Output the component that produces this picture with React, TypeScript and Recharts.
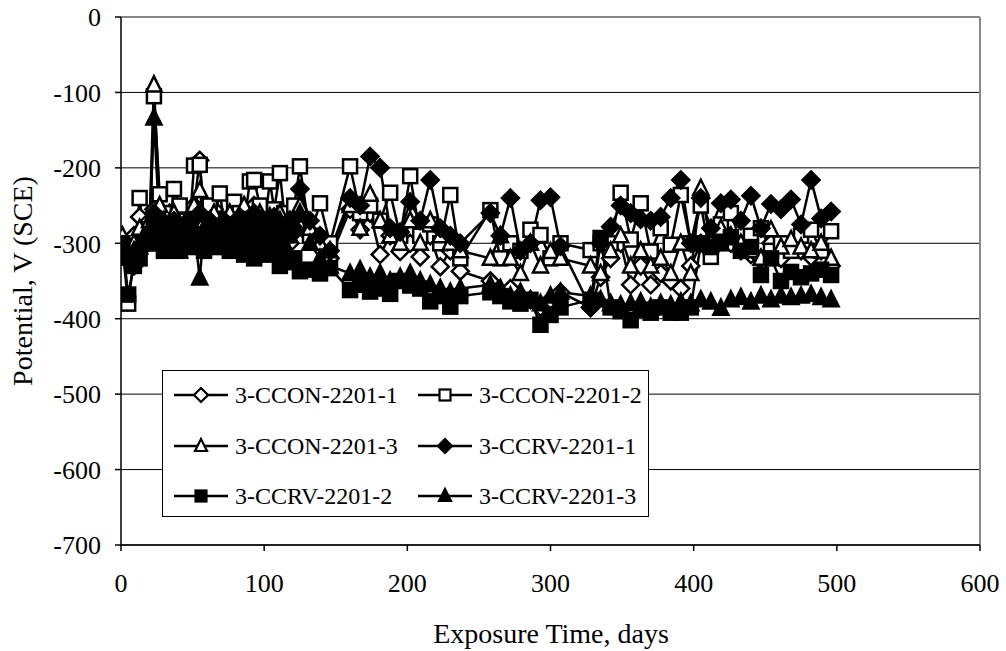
import React from 'react';
import { LineChart, Line, XAxis, YAxis, CartesianGrid, Legend, ReferenceLine } from 'recharts';

const days = [1,5,9,13,16,20,23,27,30,34,37,41,44,48,51,55,58,62,65,69,72,76,79,83,86,90,93,97,100,104,107,111,114,118,121,125,132,139,146,160,167,174,181,188,195,202,209,216,223,230,237,258,265,272,279,286,293,300,307,328,335,342,349,356,363,370,377,384,391,398,405,412,419,426,433,440,447,454,461,468,475,482,489,496];

const ccon1 = [-300,-310,-290,-265,-280,-270,-255,-270,-285,-260,
  -275,-290,-265,-280,-250,-190,-265,-280,-255,-270,
  -290,-265,-280,-255,-285,-270,-250,-290,-275,-300,
  -280,-295,-270,-300,-285,-260,
  -290,-300,-320,
  -255,-282,-260,-315,-290,-311,-300,-318,-290,-331,
  -310,-337,
  -350,-365,-360,-370,-375,-385,-375,-365,
  -385,-345,-320,-300,-355,-330,-355,-340,-350,-360,
  -330,-300,-310,-280,-300,-310,-315,-320,-300,-320,
  -305,-310,-318,-310,-330];

const ccon2 = [-305,-380,-320,-240,-290,-300,-105,-235,-260,-280,
  -228,-250,-270,-275,-197,-196,-260,-250,-270,-234,
  -270,-280,-245,-260,-275,-218,-216,-250,-280,-218,
  -255,-207,-260,-280,-250,-198,
  -290,-247,-300,
  -198,-260,-250,-270,-233,-290,-211,-290,-275,-300,
  -236,-320,
  -256,-320,-300,-310,-282,-289,-320,-300,
  -309,-300,-300,-233,-295,-247,-311,-280,-302,-236,
  -300,-250,-318,-275,-260,-300,-290,-280,-310,-300,
  -310,-290,-282,-310,-284];

const ccon3 = [-290,-310,-300,-280,-290,-270,-90,-250,-270,-285,
  -260,-280,-275,-290,-250,-230,-270,-285,-260,-275,
  -280,-260,-290,-270,-250,-285,-270,-260,-290,-265,
  -280,-260,-290,-270,-275,-250,
  -280,-300,-310,
  -250,-280,-235,-270,-290,-300,-270,-300,-270,-290,
  -300,-310,
  -320,-290,-320,-340,-300,-330,-311,-320,
  -330,-340,-310,-290,-330,-310,-330,-320,-340,-300,
  -340,-227,-300,-280,-290,-300,-310,-320,-282,-305,
  -295,-305,-310,-300,-320];

const ccrv1 = [-310,-320,-330,-310,-300,-290,-260,-270,-280,-290,
  -270,-295,-280,-270,-290,-260,-285,-270,-290,-280,
  -270,-295,-280,-265,-290,-275,-260,-285,-270,-280,
  -265,-275,-290,-270,-280,-228,
  -270,-290,-310,
  -240,-250,-185,-200,-280,-285,-245,-270,-216,-280,
  -290,-300,
  -260,-290,-240,-310,-300,-243,-239,-304,
  -385,-300,-278,-250,-260,-268,-270,-265,-240,-216,
  -300,-240,-280,-247,-242,-270,-237,-280,-248,-255,
  -242,-275,-216,-267,-258];

const ccrv2 = [-300,-368,-330,-320,-300,-295,-270,-300,-310,-290,
  -300,-310,-295,-305,-300,-290,-310,-300,-295,-305,
  -300,-310,-305,-300,-315,-310,-320,-315,-310,-305,
  -315,-330,-320,-325,-320,-337,
  -335,-340,-333,
  -362,-355,-364,-360,-367,-350,-356,-360,-377,-370,
  -384,-370,
  -365,-370,-377,-380,-375,-408,-395,-385,
  -375,-293,-385,-390,-402,-388,-392,-385,-392,-392,
  -385,-300,-305,-300,-292,-310,-305,-342,-320,-350,
  -338,-345,-340,-335,-342];

const ccrv3 = [-310,-320,-310,-305,-300,-280,-134,-280,-290,-300,
  -290,-310,-300,-290,-280,-346,-280,-270,-290,-280,
  -300,-290,-280,-270,-300,-290,-280,-270,-300,-290,
  -280,-270,-300,-290,-280,-260,
  -300,-320,-330,
  -340,-335,-345,-340,-350,-345,-340,-350,-355,-360,
  -365,-360,
  -355,-360,-370,-365,-375,-380,-370,-365,
  -370,-375,-380,-382,-380,-378,-385,-380,-382,-378,
  -380,-375,-378,-386,-375,-372,-378,-370,-375,-370,
  -372,-370,-368,-372,-375];

const seriesNames = ['3-CCON-2201-1','3-CCON-2201-2','3-CCON-2201-3','3-CCRV-2201-1','3-CCRV-2201-2','3-CCRV-2201-3'];
const seriesKeys = ['s1','s2','s3','s4','s5','s6'];
const seriesShapes = ['diamond','square','triangle','diamond','square','triangle'];
const seriesFilled = [false,false,false,true,true,true];
const seriesValues = [ccon1, ccon2, ccon3, ccrv1, ccrv2, ccrv3];

const xTicks = [0,100,200,300,400,500,600];
const yTicks = [0,-100,-200,-300,-400,-500,-600,-700];

const data = days.map((d, i) => {
  const row: any = { day: d };
  seriesKeys.forEach((k, j) => { row[k] = seriesValues[j][i]; });
  return row;
});

const FONT = '"Liberation Serif", "Times New Roman", serif';

function Marker({ cx, cy, shape, filled, r = 7, sw = 2.5 }: any) {
  const fill = filled ? '#000' : '#fff';
  const common = { fill, stroke: '#000', strokeWidth: sw, strokeLinejoin: 'miter' as const };
  if (shape === 'diamond') {
    const rr = r + 1;
    return <polygon points={`${cx},${cy - rr} ${cx + rr},${cy} ${cx},${cy + rr} ${cx - rr},${cy}`} {...common} />;
  }
  if (shape === 'square') {
    return <rect x={cx - r + 0.5} y={cy - r + 0.5} width={2 * r - 1} height={2 * r - 1} {...common} />;
  }
  return <polygon points={`${cx},${cy - r - 1} ${cx + r},${cy + r - 1} ${cx - r},${cy + r - 1}`} {...common} />;
}

function makeDot(shape: string, filled: boolean) {
  return (props: any) => {
    const { cx, cy, index } = props;
    if (cx == null || cy == null) return <g key={index} />;
    return <g key={index}><Marker cx={cx} cy={cy} shape={shape} filled={filled} r={7.5} sw={2.5} /></g>;
  };
}

function LegendBox() {
  const rows = [[0, 1], [2, 3], [4, 5]];
  return (
    <div style={{ width: 487, height: 147, border: '1.5px solid #000', background: '#fff', boxSizing: 'border-box', position: 'relative' }}>
      {rows.map((pair, ri) => pair.map((si, ci) => (
        <div key={si} style={{ position: 'absolute', left: ci === 0 ? 10 : 254, top: 7 + ri * 50.5, height: 34, display: 'flex', alignItems: 'center' }}>
          <svg width={56} height={34} style={{ display: 'block' }}>
            <line x1={1} y1={17} x2={55} y2={17} stroke="#000" strokeWidth={2.5} />
            <Marker cx={28} cy={17} shape={seriesShapes[si]} filled={seriesFilled[si]} r={6} sw={2.2} />
          </svg>
          <span style={{ fontFamily: FONT, fontSize: 24, color: '#000', marginLeft: 6, whiteSpace: 'nowrap', lineHeight: '34px' }}>{seriesNames[si]}</span>
        </div>
      )))}
    </div>
  );
}

export default function App() {
  return (
    <div style={{ position: 'absolute', left: 0, top: 0, width: 1006, height: 651, background: '#fff' }}>
      <LineChart width={1006} height={651} data={data} margin={{ top: 17, right: 26, left: 41, bottom: 36 }}>
        <CartesianGrid vertical={false} horizontal={true} stroke="#000" strokeWidth={1} horizontalValues={yTicks} />
        <ReferenceLine y={0} stroke="#888" strokeWidth={2} />
        <ReferenceLine x={600} stroke="#888" strokeWidth={2} />
        <XAxis
          dataKey="day"
          type="number"
          domain={[0, 600]}
          ticks={xTicks}
          interval={0}
          height={70}
          tickSize={6}
          tickMargin={23}
          stroke="#000"
          strokeWidth={1.5}
          tick={{ fill: '#000', fontFamily: FONT, fontSize: 26 }}
          allowDataOverflow
        />
        <YAxis
          type="number"
          domain={[-700, 0]}
          ticks={yTicks}
          interval={0}
          width={80}
          tickSize={6}
          tickMargin={14}
          stroke="#000"
          strokeWidth={1.5}
          tick={{ fill: '#000', fontFamily: FONT, fontSize: 26 }}
          allowDataOverflow
        />
        {seriesKeys.map((k, j) => (
          <Line
            key={k}
            dataKey={k}
            name={seriesNames[j]}
            stroke="#000"
            strokeWidth={2.5}
            dot={makeDot(seriesShapes[j], seriesFilled[j])}
            activeDot={false}
            isAnimationActive={false}
          />
        ))}
        <Legend
          layout="horizontal"
          verticalAlign="middle"
          align="center"
          content={() => <LegendBox />}
          wrapperStyle={{ position: 'absolute', left: 162, top: 370, width: 487, height: 147 }}
        />
        <text x={551} y={643} textAnchor="middle" fontFamily={FONT} fontSize={28} fill="#000">Exposure Time, days</text>
        <text x={22} y={281} textAnchor="middle" dominantBaseline="central" transform="rotate(-90 22 281)" fontFamily={FONT} fontSize={28} fill="#000">Potential, V (SCE)</text>
      </LineChart>
    </div>
  );
}
